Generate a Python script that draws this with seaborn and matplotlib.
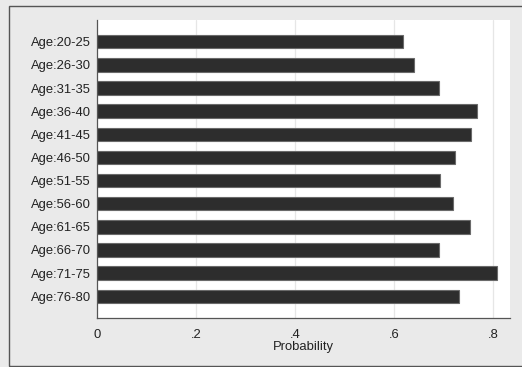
import matplotlib
matplotlib.use("Agg")
import matplotlib.pyplot as plt
import seaborn as sns
import pandas as pd
from matplotlib.patches import Rectangle

# Age groups and the estimated probability for each
age_groups = ["Age:20-25", "Age:26-30", "Age:31-35", "Age:36-40", "Age:41-45",
              "Age:46-50", "Age:51-55", "Age:56-60", "Age:61-65", "Age:66-70",
              "Age:71-75", "Age:76-80"]
probability = [0.617, 0.640, 0.690, 0.767, 0.756, 0.723, 0.692, 0.718,
               0.753, 0.691, 0.807, 0.731]
tick_values = [0, 0.2, 0.4, 0.6, 0.8]
tick_labels = ["0", ".2", ".4", ".6", ".8"]

df = pd.DataFrame({"age": age_groups, "prob": probability})

sns.set_theme(style="white")
plt.rcParams["font.family"] = ["Liberation Sans", "DejaVu Sans"]

fig = plt.figure(figsize=(5.22, 3.67), dpi=100)
fig.patch.set_facecolor("#eaeaea")
ax = fig.add_axes([97 / 522, 1 - 318 / 367, (510 - 97) / 522, (318 - 20) / 367])
ax.set_facecolor("white")

# Outer frame around the graph region
fig.patches.append(Rectangle((9 / 522, 1 / 367), 1.0, 1 - 7 / 367,
                             transform=fig.transFigure, fill=False,
                             edgecolor="#555555", linewidth=1.0, zorder=0))

for v in tick_values[1:]:
    ax.axvline(v, color="#e6e6e6", linewidth=0.9, zorder=0)

sns.barplot(data=df, x="prob", y="age", orient="h", color="#2d2d2d",
            width=0.58, edgecolor="#6a6a6a", linewidth=0.8, ax=ax,
            saturation=1, zorder=2)

ax.set_xlim(0, 0.834)
ax.set_ylim(len(age_groups) - 1 + 0.94, -0.94)
ax.set_xticks(tick_values)
ax.set_xticklabels(tick_labels, fontsize=9.4, color="#222222")
ax.tick_params(axis="x", direction="out", length=5, width=0.8, color="#555555", pad=3)
ax.tick_params(axis="y", length=0, labelsize=9.4, labelcolor="#222222", pad=4.5)
ax.set_xlabel("Probability", fontsize=9.4, color="#222222", labelpad=0)
ax.set_ylabel("")

for side in ["top", "right"]:
    ax.spines[side].set_visible(False)
for side in ["left", "bottom"]:
    ax.spines[side].set_color("#555555")
    ax.spines[side].set_linewidth(0.9)

fig.savefig("out.png", dpi=100, facecolor=fig.get_facecolor())
